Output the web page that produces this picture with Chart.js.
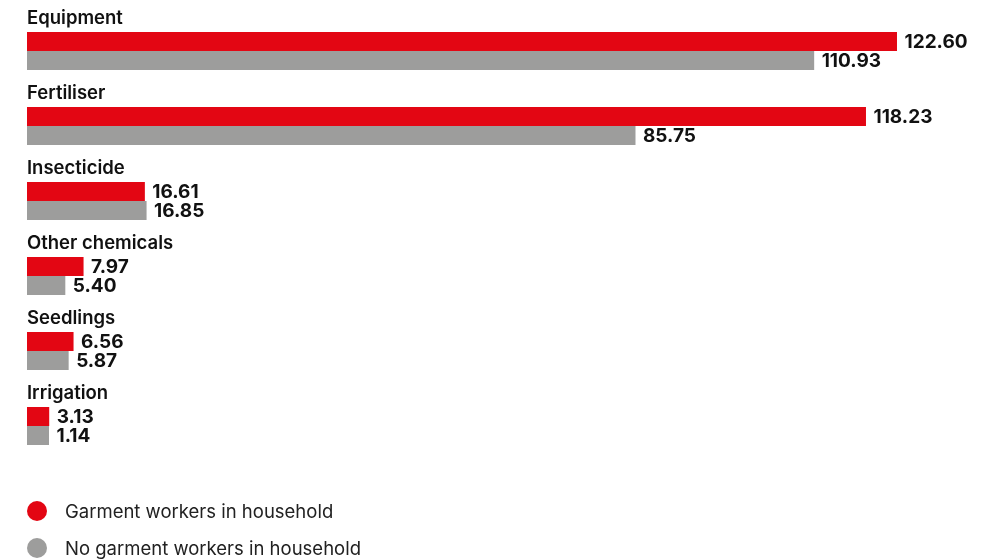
<!DOCTYPE html>
<html>
<head>
<meta charset="utf-8">
<script src="https://cdn.jsdelivr.net/npm/chart.js@4"></script>
<style>
html,body{margin:0;padding:0;background:#fff;}
#wrap{width:988px;height:560px;position:relative;}
</style>
</head>
<body>
<div id="wrap"><canvas id="c" width="988" height="560"></canvas></div>
<script>
const categories = ["Equipment", "Fertiliser", "Insecticide", "Other chemicals", "Seedlings", "Irrigation"];
const garmentValues = [122.60, 118.23, 16.61, 7.97, 6.56, 3.13];
const noGarmentValues = [110.93, 85.75, 16.85, 5.40, 5.87, 1.14];
const seriesNames = ["Garment workers in household", "No garment workers in household"];
const RED = "#E30613";
const GREY = "#9D9D9C";
const FONT = "Inter, 'Noto Sans', sans-serif";

const overlay = {
  id: "overlay",
  afterDatasetsDraw(chart) {
    const ctx = chart.ctx;
    ctx.save();
    ctx.fillStyle = "#111";
    // value labels
    chart.data.datasets.forEach((ds, di) => {
      const meta = chart.getDatasetMeta(di);
      meta.data.forEach((bar, i) => {
        ctx.font = "700 19px " + FONT;
        ctx.textAlign = "left";
        ctx.textBaseline = "middle";
        ctx.fillText(ds.data[i].toFixed(2), bar.x + 7.5, bar.y + 1);
      });
    });
    // category labels above bars
    const meta0 = chart.getDatasetMeta(0);
    meta0.data.forEach((bar, i) => {
      const top = bar.y - bar.height / 2;
      ctx.font = "600 18.5px " + FONT;
      ctx.textAlign = "left";
      ctx.textBaseline = "middle";
      ctx.fillText(categories[i], chart.chartArea.left, top - 14);
    });
    // legend
    const ly = [511, 548];
    const cols = [RED, GREY];
    ly.forEach((y, k) => {
      ctx.beginPath();
      ctx.fillStyle = cols[k];
      ctx.arc(37, y, 10, 0, Math.PI * 2);
      ctx.fill();
      ctx.fillStyle = "#222";
      ctx.font = "400 18.5px " + FONT;
      ctx.textAlign = "left";
      ctx.textBaseline = "middle";
      ctx.fillText(seriesNames[k], 65, y + 1);
    });
    ctx.restore();
  }
};

new Chart(document.getElementById("c"), {
  type: "bar",
  data: {
    labels: categories,
    datasets: [
      { label: seriesNames[0], data: garmentValues, backgroundColor: RED, minBarLength: 22 },
      { label: seriesNames[1], data: noGarmentValues, backgroundColor: GREY, minBarLength: 22 }
    ]
  },
  options: {
    indexAxis: "y",
    responsive: false,
    animation: false,
    devicePixelRatio: 1,
    categoryPercentage: 0.507,
    barPercentage: 1,
    layout: { padding: { left: 27, top: 13.5, right: 38.5, bottom: 96.5 } },
    scales: {
      x: { display: false, min: 0, max: 130 },
      y: { display: false }
    },
    plugins: { legend: { display: false }, tooltip: { enabled: false } }
  },
  plugins: [overlay]
});
</script>
</body>
</html>
